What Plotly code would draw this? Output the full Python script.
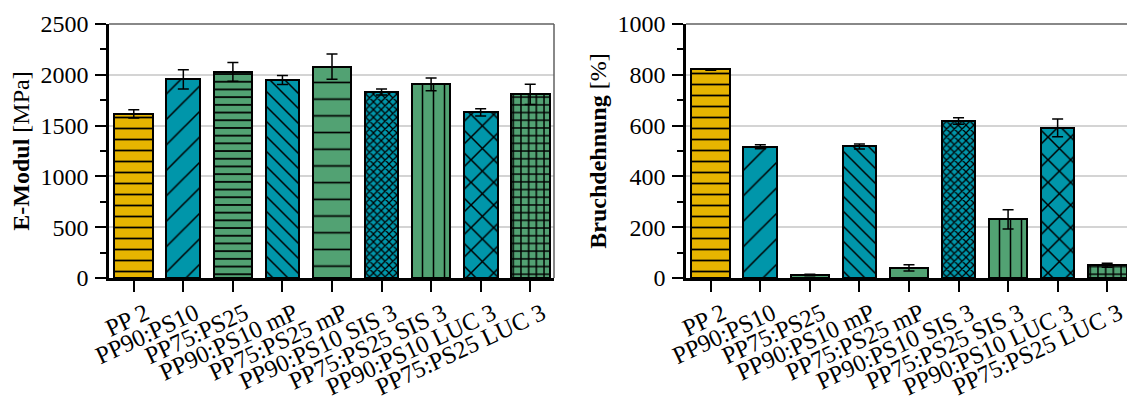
import plotly.graph_objects as go

# Sample names (shared by both panels)
categories = [
    "PP 2", "PP90:PS10", "PP75:PS25", "PP90:PS10 mP", "PP75:PS25 mP",
    "PP90:PS10 SIS 3", "PP75:PS25 SIS 3", "PP90:PS10 LUC 3", "PP75:PS25 LUC 3",
]

# Young's modulus [MPa] with standard deviation
e_modul = [1615, 1955, 2028, 1948, 2080, 1830, 1905, 1630, 1807]
e_modul_err = [40, 95, 92, 44, 125, 30, 63, 36, 100]

# Elongation at break [%] with standard deviation
bruchdehnung = [821, 517, 12, 518, 40, 618, 231, 591, 50]
bruchdehnung_err = [3, 8, 3, 10, 12, 13, 38, 35, 8]

# Styling per sample
YELLOW, TEAL, GREEN = "#E6B400", "#0096AA", "#52A273"
bar_colors = [YELLOW, TEAL, GREEN, TEAL, GREEN, TEAL, GREEN, TEAL, GREEN]
bar_widths = [0.78, 0.68, 0.78, 0.68, 0.78, 0.68, 0.78, 0.68, 0.78]
hatch_shape = ["-", "/", "-", "\\", "-", "x", "|", "x", "+"]
hatch_size = [11, 18, 7.7, 10.6, 16.7, 5.5, 11, 16, 7.7]
hatch_solid = [0.16, 0.085, 0.23, 0.14, 0.1, 0.4, 0.14, 0.18, 0.35]

FONT = "Liberation Serif"
W, H = 1127, 399


def add_bars(fig, values, errors, xa, ya):
    # one trace per sample so every bar keeps its own colour and hatch
    for i, name in enumerate(categories):
        fig.add_trace(go.Bar(
            x=[name], y=[values[i]], xaxis=xa, yaxis=ya,
            width=bar_widths[i],
            marker=dict(
                color=bar_colors[i],
                line=dict(color="black", width=2),
                pattern=dict(shape=hatch_shape[i], size=hatch_size[i],
                             solidity=hatch_solid[i], fgcolor="black",
                             bgcolor=bar_colors[i], fgopacity=1,
                             fillmode="replace"),
            ),
            error_y=dict(type="data", array=[errors[i]], color="black",
                         thickness=1.5, width=5.5),
            showlegend=False,
        ))


fig = go.Figure()
add_bars(fig, e_modul, e_modul_err, "x", "y")
add_bars(fig, bruchdehnung, bruchdehnung_err, "x2", "y2")

xcommon = dict(
    type="category", categoryorder="array", categoryarray=categories,
    tickangle=-25, ticks="outside", ticklen=11, tickwidth=2,
    tickcolor="black", showline=True, linewidth=2.5, linecolor="black",
    showgrid=False, zeroline=False, automargin=False,
    tickfont=dict(family=FONT, size=24.5, color="black"),
    ticklabelstandoff=-2, ticklabelshift=12,
)
ycommon = dict(
    ticks="outside", ticklen=11, tickwidth=2, tickcolor="black",
    showline=True, linewidth=2.5, linecolor="black",
    showgrid=True, gridcolor="#d4d4d4", gridwidth=1.5, zeroline=False,
    automargin=False,
    tickfont=dict(family=FONT, size=24, color="black"),
    ticklabelstandoff=2,
    minor=dict(ticks="outside", ticklen=6, tickwidth=2, tickcolor="black",
               showgrid=False),
)

fig.update_layout(
    template="none",
    width=W, height=H,
    margin=dict(l=0, r=0, t=24, b=121),
    paper_bgcolor="white", plot_bgcolor="white",
    font=dict(family=FONT, color="black"),
    barmode="overlay", bargap=0,
    xaxis=dict(domain=[109 / W, 554 / W], range=[-0.5, 8.48], anchor="y", **xcommon),
    xaxis2=dict(domain=[686 / W, 1.0], range=[-0.5, 8.40], anchor="y2", **xcommon),
    yaxis=dict(domain=[0, 1], range=[0, 2500], dtick=500, anchor="x",
               title=dict(text="<b>E-Modul</b> [MPa]", standoff=5,
                          font=dict(family=FONT, size=24, color="black")),
               **ycommon),
    yaxis2=dict(domain=[0, 1], range=[0, 1000], dtick=200, anchor="x2",
                title=dict(text="<b>Bruchdehnung</b> [%]", standoff=5,
                           font=dict(family=FONT, size=24, color="black")),
                **ycommon),
)
fig.update_layout(yaxis_minor_dtick=250, yaxis2_minor_dtick=100)

# Thin grey frame on the top (and right side of the left panel)
frame = dict(type="line", line=dict(color="#606060", width=1.5), layer="above")
fig.add_shape(xref="x domain", yref="y domain", x0=0, x1=1, y0=1, y1=1, **frame)
fig.add_shape(xref="x domain", yref="y domain", x0=1, x1=1, y0=0, y1=1, **frame)
fig.add_shape(xref="x2 domain", yref="y2 domain", x0=0, x1=1, y0=1, y1=1, **frame)

fig.write_html("out.html")
